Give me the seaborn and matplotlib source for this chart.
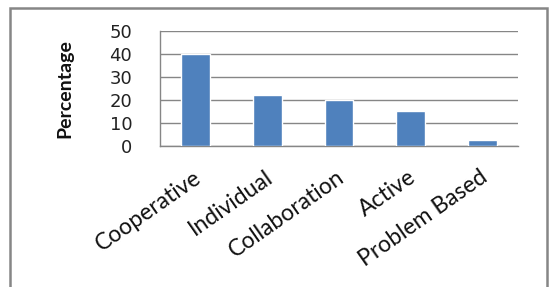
import numpy as np
import pandas as pd
import matplotlib
matplotlib.use("Agg")
import matplotlib.pyplot as plt
import matplotlib.transforms as mtransforms
from matplotlib.patches import Rectangle
import seaborn as sns

# ==========================================================
# DATA
# ==========================================================
methods = ["Cooperative", "Individual", "Collaboration", "Active", "Problem Based"]
percent = [40, 22, 20, 15, 2.5]
y_ticks = [0, 10, 20, 30, 40, 50]

df = pd.DataFrame({"method": methods, "pct": percent})

# ==========================================================
# STYLE
# ==========================================================
sns.set_style("white")
plt.rcParams["font.family"] = ["Lato", "DejaVu Sans"]

GRID = "#868686"
BAR = "#4F81BD"

fig = plt.figure(figsize=(5.5, 2.87), dpi=100)
ax = fig.add_axes([160 / 550, 1 - 146 / 287, (518 - 160) / 550, (146 - 30.7) / 287])

sns.barplot(data=df, x="method", y="pct", color=BAR, width=0.4,
            saturation=1, ax=ax, zorder=3)

ax.set_ylim(0, 50)
ax.set_yticks(y_ticks)
ax.set_yticklabels([str(t) for t in y_ticks], family="DejaVu Sans",
                   fontsize=13, color="#222222")
ax.yaxis.grid(True, color=GRID, linewidth=1.0, zorder=0)
ax.set_axisbelow(True)

for side in ["top", "right"]:
    ax.spines[side].set_visible(False)
for side in ["left", "bottom"]:
    ax.spines[side].set_color(GRID)
    ax.spines[side].set_linewidth(1.0)

ax.tick_params(axis="y", length=0, pad=20)
ax.tick_params(axis="x", length=0, pad=21)

ax.set_xticks(range(len(methods)))
ax.set_xticklabels(methods, rotation=35, ha="right", va="center",
                   rotation_mode="anchor", fontsize=16.5, color="#111111")
offset = mtransforms.ScaledTranslation(3 / 100, 0, fig.dpi_scale_trans)
for lbl in ax.get_xticklabels():
    lbl.set_transform(lbl.get_transform() + offset)

ax.set_xlabel("")
ax.set_ylabel("Percentage", fontsize=14, fontweight="bold", color="#111111")
ax.yaxis.set_label_coords((73 - 160) / 358, 0.5)

# outer chart border (cut off at the bottom of the image)
fig.patches.append(Rectangle((10 / 550, -0.1), 537 / 550, 1.1 - 8 / 287,
                             transform=fig.transFigure, fill=False,
                             edgecolor=GRID, linewidth=1.8))

plt.savefig("out.png", dpi=100)
